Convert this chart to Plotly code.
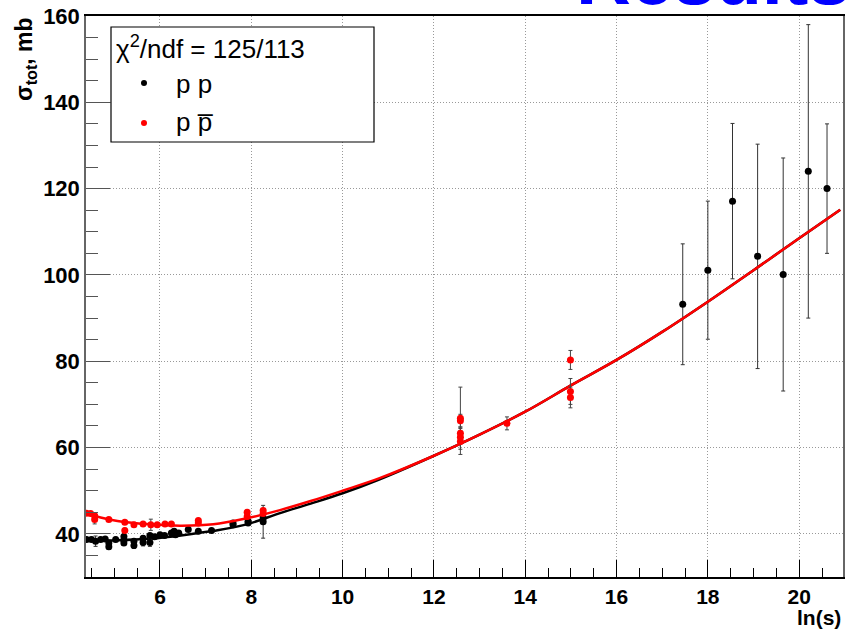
import plotly.graph_objects as go

# ---- data ----
pp_x = [4.39, 4.50, 4.59, 4.70, 4.80, 4.88, 4.88, 5.03, 5.21, 5.21, 5.21, 5.43, 5.43,
        5.63, 5.63, 5.78, 5.78, 5.88, 6.00, 6.10, 6.25, 6.31, 6.34, 6.41, 6.62, 6.84,
        7.13, 7.60, 7.60, 7.93, 7.93, 8.26, 8.26,
        17.45, 18.00, 18.54, 19.09, 19.65, 20.20, 20.61]
pp_y = [38.7, 38.7, 38.3, 38.7, 38.8, 37.9, 37.0, 38.7, 38.5, 37.9, 39.4, 38.3, 37.3,
        38.0, 39.0, 38.0, 39.6, 39.3, 39.8, 39.6, 40.2, 40.6, 39.8, 40.2, 41.0, 40.6,
        40.8, 42.1, 42.5, 42.5, 42.9, 43.7, 42.8,
        93.2, 101.1, 117.1, 104.3, 100.1, 124.0, 120.0]
pp_err = [0.5, 0.5, 1.2, 0.5, 0.5, 0.6, 0.6, 0.5, 0.8, 0.6, 0.5, 0.6, 0.7,
          0.8, 0.5, 0.9, 0.5, 0.5, 0.4, 0.4, 0.4, 0.4, 0.4, 0.4, 0.3, 0.3,
          0.3, 0.4, 0.4, 0.4, 0.4, 0.5, 3.8,
          14, 16, 18, 26, 27, 34, 15]

ppbar_x = [4.39, 4.48, 4.57, 4.57, 4.88, 5.23, 5.23, 5.43, 5.63, 5.80, 5.94, 6.11, 6.25,
           6.84, 6.84, 7.91, 7.91, 8.26, 8.26,
           12.58, 12.58, 12.58, 12.58, 12.58, 13.60, 14.99, 14.99, 14.99]
ppbar_y = [44.8, 44.7, 44.2, 43.3, 43.3, 42.7, 40.8, 42.1, 42.3, 42.1, 42.1, 42.3, 42.3,
           43.1, 42.5, 45.0, 44.0, 45.4, 44.7,
           66.8, 66.2, 63.3, 62.4, 61.4, 65.6, 80.3, 73.0, 71.6]
ppbar_err = [0.4, 0.4, 0.5, 1.0, 0.4, 0.4, 0.5, 0.4, 0.4, 1.3, 0.4, 0.3, 0.3,
             0.4, 0.4, 0.5, 0.5, 0.5, 0.5,
             7.2, 1.5, 1.5, 1.5, 3.0, 1.5, 2.2, 3.0, 2.4]

fit_pp_x = [4.38, 5.07, 5.8, 6.5, 7.17, 7.9, 8.63, 9.3, 10.0, 10.8, 12.0, 13.0, 14.0,
            15.0, 16.0, 17.0, 18.0, 19.0, 20.0, 20.9]
fit_pp_y = [38.4, 38.5, 38.9, 39.7, 40.7, 42.2, 44.8, 47.0, 49.4, 52.6, 58.1, 63.0, 68.3,
            74.4, 80.3, 86.8, 93.8, 101.1, 108.5, 115.1]

fit_ppbar_x = [4.38, 4.7, 5.07, 5.8, 6.44, 7.17, 7.9, 8.63, 9.3, 10.0, 10.81, 12.0, 13.0,
               14.0, 15.0, 16.0, 17.0, 18.0, 19.0, 20.0, 20.9]
fit_ppbar_y = [44.8, 43.8, 43.0, 42.2, 41.9, 42.2, 43.6, 45.5, 47.6, 50.0, 52.9, 58.1, 63.0,
               68.3, 74.4, 80.3, 86.8, 93.8, 101.1, 108.5, 115.1]

x_range = [4.38, 20.96]
y_range = [30, 160]

FONT = "Liberation Sans, Arial, sans-serif"

fig = go.Figure()
fig.add_trace(go.Scatter(x=fit_pp_x, y=fit_pp_y, mode="lines", line=dict(color="black", width=2.5, shape="spline"),
                         showlegend=False, hoverinfo="skip"))
fig.add_trace(go.Scatter(x=pp_x, y=pp_y, mode="markers",
                         marker=dict(color="black", size=7),
                         error_y=dict(type="data", array=pp_err, color="#333", thickness=1, width=2),
                         showlegend=False))
fig.add_trace(go.Scatter(x=fit_ppbar_x, y=fit_ppbar_y, mode="lines", line=dict(color="red", width=2.5, shape="spline"),
                         showlegend=False, hoverinfo="skip"))
fig.add_trace(go.Scatter(x=ppbar_x, y=ppbar_y, mode="markers",
                         marker=dict(color="red", size=7),
                         error_y=dict(type="data", array=ppbar_err, color="#444", thickness=1, width=2),
                         showlegend=False))

W, H = 846, 637
L, R, T, B = 86, 3, 16, 60
pw, ph = W - L - R, H - T - B

def px(xp):
    return (xp - L) / pw

def py(yp):
    return 1 - (yp - T) / ph

shapes = [dict(type="rect", xref="paper", yref="paper", x0=px(111), x1=px(374), y0=py(142), y1=py(27),
               line=dict(color="black", width=1.2), fillcolor="white", layer="above")]
for cy, col in [(83, "black"), (123, "red")]:
    shapes.append(dict(type="circle", xref="paper", yref="paper", x0=px(141), x1=px(147),
                       y0=py(cy + 3), y1=py(cy - 3), fillcolor=col, line=dict(color=col, width=0), layer="above"))

annotations = [
    dict(text="χ<sup>2</sup>/ndf = 125/113", xref="paper", yref="paper", x=px(114), y=py(48),
         xanchor="left", yanchor="middle", showarrow=False, font=dict(family=FONT, size=26, color="black")),
    dict(text="p p", xref="paper", yref="paper", x=px(174), y=py(84),
         xanchor="left", yanchor="middle", showarrow=False, font=dict(family=FONT, size=26, color="black")),
    dict(text="p p\u0305", xref="paper", yref="paper", x=px(174), y=py(122),
         xanchor="left", yanchor="middle", showarrow=False, font=dict(family=FONT, size=26, color="black")),
    dict(text="ln(s)", xref="paper", yref="paper", x=px(843), y=py(617),
         xanchor="right", yanchor="middle", showarrow=False,
         font=dict(family=FONT, size=21, color="black", weight="bold")),
    dict(text="σ<sub>tot</sub>, mb", xref="paper", yref="paper", x=px(25), y=py(15),
         xanchor="center", yanchor="top", textangle=-90, showarrow=False,
         font=dict(family=FONT, size=23, color="black", weight="bold")),
    dict(text="Results", xref="paper", yref="paper", x=px(574), y=py(22),
         xanchor="left", yanchor="bottom", showarrow=False,
         font=dict(family=FONT, size=76, color="#0000ff", weight="bold")),
]

fig.update_layout(
    width=W, height=H,
    margin=dict(l=L, r=R, t=T, b=B, autoexpand=False),
    paper_bgcolor="white", plot_bgcolor="white",
    shapes=shapes, annotations=annotations,
    font=dict(family=FONT),
    xaxis=dict(range=x_range, tickmode="array", tickvals=[6, 8, 10, 12, 14, 16, 18, 20],
               ticks="inside", ticklen=17, tickcolor="black", tickwidth=1,
               minor=dict(dtick=0.5, tick0=0, ticks="inside", ticklen=9, tickcolor="black", showgrid=False),
               showgrid=True, gridcolor="#999", griddash="1px,2px", gridwidth=1,
               showline=True, linecolor="black", linewidth=2, mirror=True,
               tickfont=dict(family=FONT, size=21, color="black", weight="bold"),
               zeroline=False, automargin=False),
    yaxis=dict(range=y_range, tickmode="array", tickvals=[40, 60, 80, 100, 120, 140, 160],
               ticks="inside", ticklen=24, tickcolor="#555", tickwidth=1,
               minor=dict(dtick=5, tick0=0, ticks="inside", ticklen=12, tickcolor="#555", showgrid=False),
               showgrid=True, gridcolor="#999", griddash="1px,2px", gridwidth=1,
               showline=True, linecolor="#666", linewidth=1.5, mirror=True,
               tickfont=dict(family=FONT, size=22, color="black", weight="bold"),
               zeroline=False, automargin=False),
)

fig.write_html("out.html", config={"displayModeBar": False},
               post_script="document.body.style.margin='0';document.body.style.overflow='hidden';")
